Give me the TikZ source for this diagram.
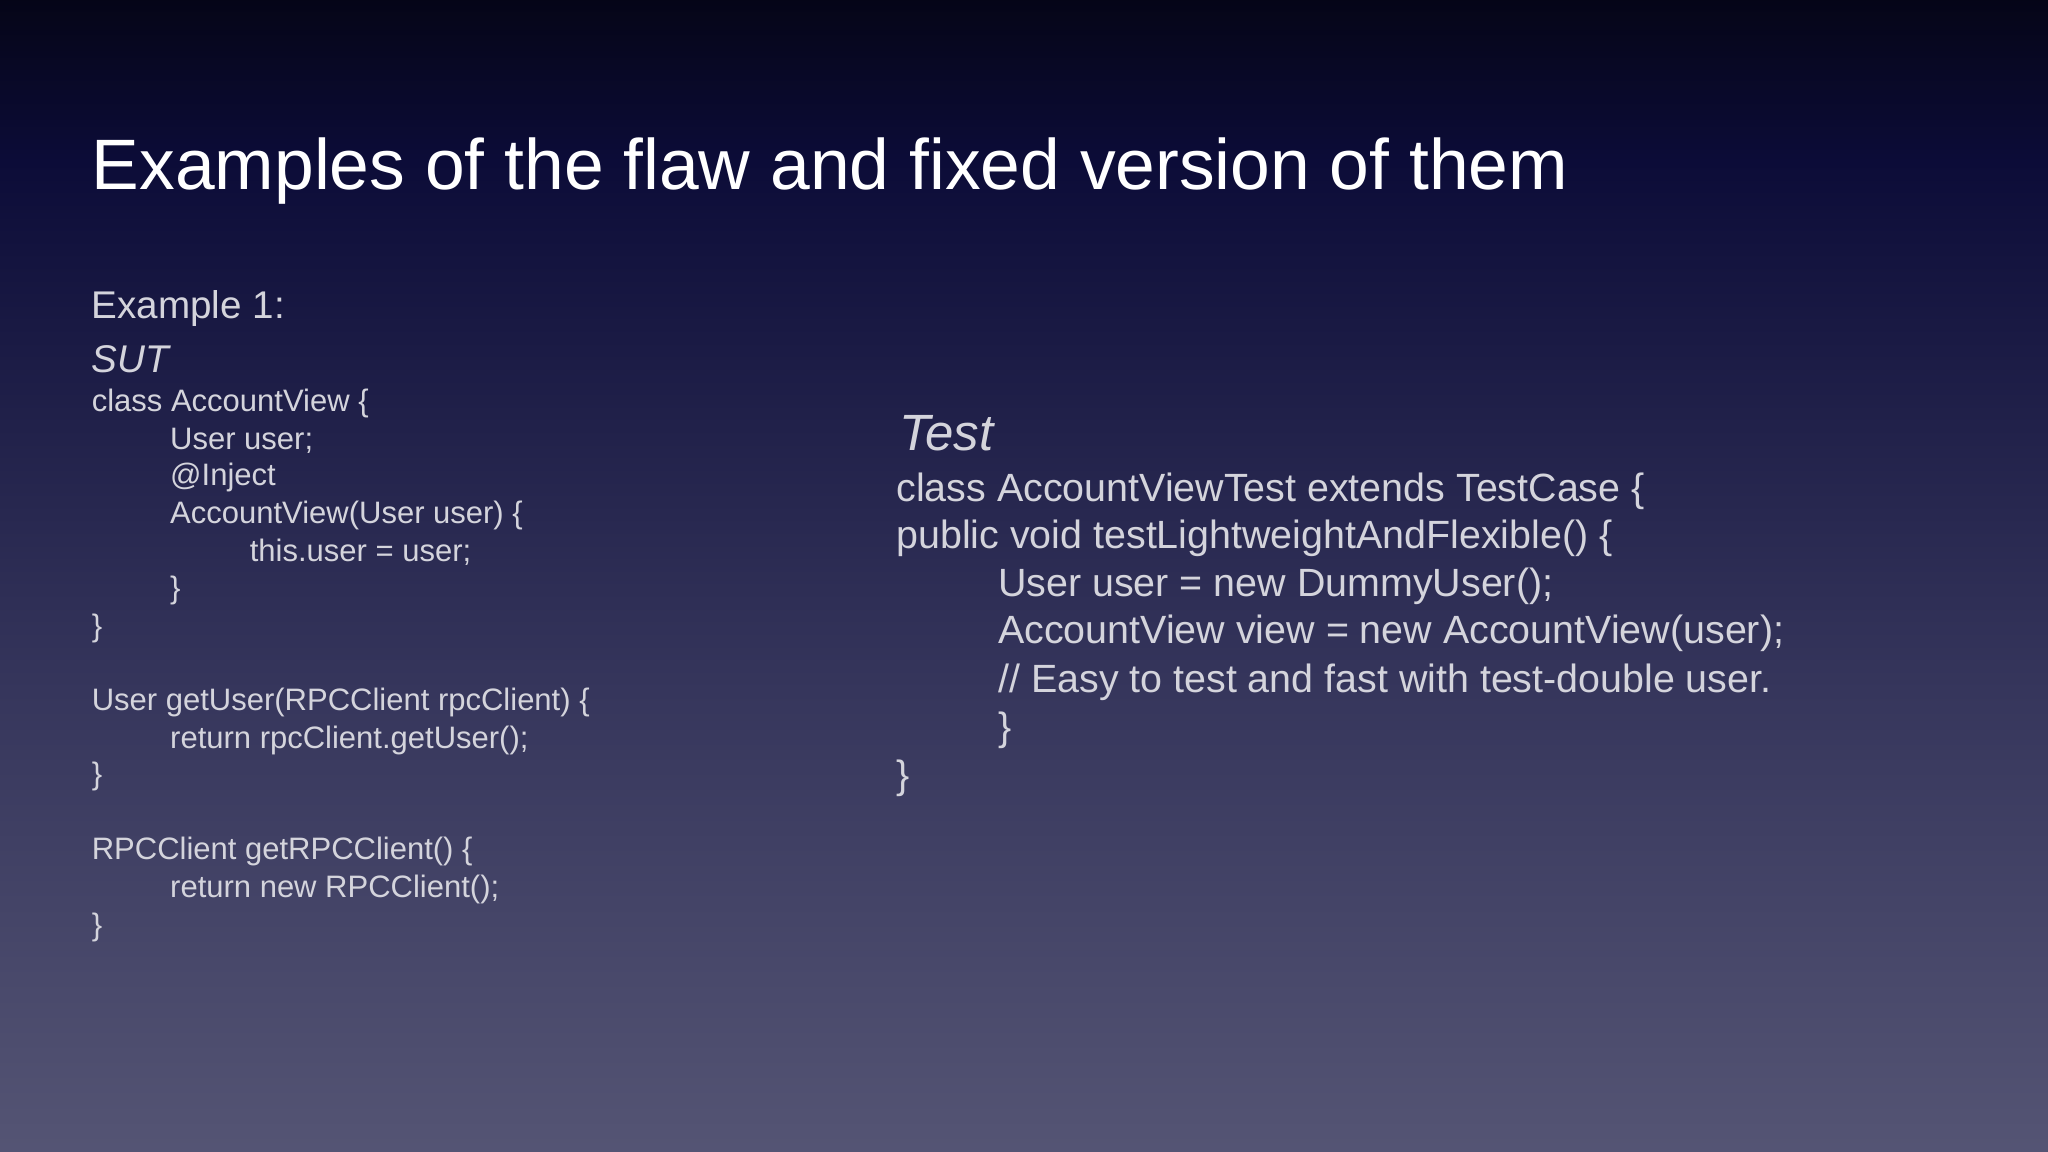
\documentclass[tikz,border=0pt]{standalone}
\usepackage{fontspec}
\setmainfont{Liberation Sans}
\definecolor{bgbot}{HTML}{6E6E88}
\definecolor{bgmid3}{HTML}{5C5C7A}
\definecolor{bgmid2}{HTML}{36365C}
\definecolor{bgmid}{HTML}{0C0C38}
\definecolor{codec}{HTML}{D4D4DC}
\pgfdeclareverticalshading{bg}{100bp}{color(0bp)=(bgbot); color(20bp)=(bgmid3); color(45bp)=(bgmid2); color(68bp)=(bgmid); color(80bp)=(black); color(100bp)=(black)}
\begin{document}
\begin{tikzpicture}[x=0.653pt,y=-0.653pt,
  ln/.style={anchor=base west,inner sep=0pt,text=codec,font=\fontsize{15.5}{18}\selectfont},
  rn/.style={anchor=base west,inner sep=0pt,text=codec,font=\fontsize{19.7}{23}\selectfont}]
\useasboundingbox (0,0) rectangle (1568,882);
\shade[shading=bg] (0,0) rectangle (1568,882);
\node[anchor=base west,inner sep=0pt,text=white,font=\fontsize{35.7}{40}\selectfont] (title) at (70,145) {Examples of the flaw and fixed version of them};
\node[ln,font=\fontsize{19.3}{22}\selectfont] (ex) at (70,244) {Example 1:};
\node[ln,font=\fontsize{19.3}{22}\itshape\selectfont] (sut) at (70,285) {SUT};
\node[ln] (l1) at (70,315) {class AccountView \{};
\node[ln] (l2) at (130,344) {User user;};
\node[ln] (l3) at (130,372) {@Inject};
\node[ln] (l4) at (130,401) {AccountView(User user) \{};
\node[ln] (l5) at (191,430) {this.user = user;};
\node[ln] (l6) at (130,458) {\}};
\node[ln] (l7) at (70,487) {\}};
\node[ln] (l8) at (70,544) {User getUser(RPCClient rpcClient) \{};
\node[ln] (l9) at (130,573) {return rpcClient.getUser();};
\node[ln] (l10) at (70,601) {\}};
\node[ln] (l11) at (70,658) {RPCClient getRPCClient() \{};
\node[ln] (l12) at (130,687) {return new RPCClient();};
\node[ln] (l13) at (70,716) {\}};
\node[rn,font=\fontsize{25.5}{28}\itshape\selectfont] (test) at (688,345) {Test};
\node[rn] (r1) at (686,384) {class AccountViewTest extends TestCase \{};
\node[rn] (r2) at (686,420) {public void testLightweightAndFlexible() \{};
\node[rn] (r3) at (764,457) {User user = new DummyUser();};
\node[rn] (r4) at (764,493) {AccountView view = new AccountView(user);};
\node[rn] (r5) at (764,530) {// Easy to test and fast with test-double user.};
\node[rn] (r6) at (764,567) {\}};
\node[rn] (r7) at (686,604) {\}};
\end{tikzpicture}
\end{document}
